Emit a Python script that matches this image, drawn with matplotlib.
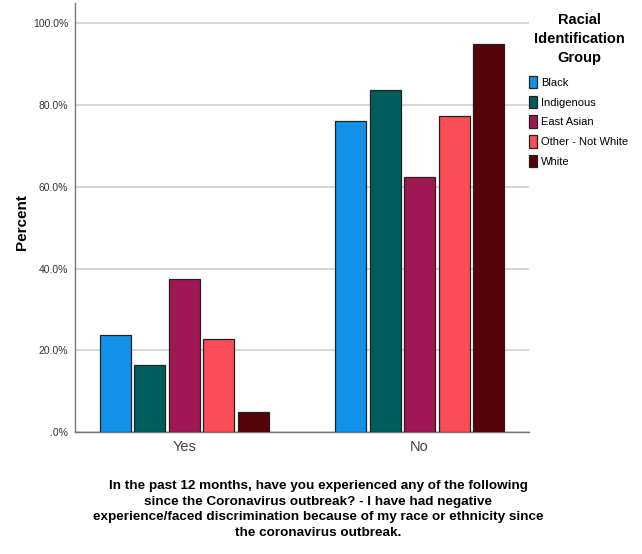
import matplotlib
matplotlib.use("Agg")
import matplotlib.pyplot as plt
import numpy as np

plt.rcParams['font.family'] = ['Liberation Sans', 'DejaVu Sans']

answers = ["Yes", "No"]
groups = ["Black", "Indigenous", "East Asian", "Other - Not White", "White"]
colors = ["#1192e8", "#005d5d", "#9f1853", "#fa4d56", "#570408"]
pct_black = [23.8, 76.2]
pct_indigenous = [16.3, 83.7]
pct_east_asian = [37.5, 62.5]
pct_other = [22.7, 77.3]
pct_white = [5.0, 95.0]
values = [pct_black, pct_indigenous, pct_east_asian, pct_other, pct_white]
yticks = [0, 20, 40, 60, 80, 100]
ytick_labels = [".0%", "20.0%", "40.0%", "60.0%", "80.0%", "100.0%"]

fig = plt.figure(figsize=(6.42, 5.54), dpi=100)
ax = fig.add_axes([75/642, 1 - 432/554, (529-75)/642, (432-3)/554])

x = np.arange(len(answers))
pitch = 0.147
width = 0.132
for i, (g, c, v) in enumerate(zip(groups, colors, values)):
    ax.bar(x + (i - 2) * pitch, v, width, color=c, edgecolor="#222222",
           linewidth=0.9, label=g, zorder=3)

ax.set_xlim(-0.465, 1.465)
ax.set_ylim(0, 105)
ax.set_yticks(yticks)
ax.set_yticklabels(ytick_labels, fontsize=7.5, color="#333333")
ax.set_xticks(x)
ax.set_xticklabels(answers, fontsize=10.5, color="#444444")
ax.tick_params(length=0)
ax.tick_params(axis='y', pad=5)
ax.tick_params(axis='x', pad=6)
ax.grid(axis='y', color="#d4d4d4", linewidth=1.3, zorder=0)
for s in ["top", "right"]:
    ax.spines[s].set_visible(False)
for s in ["left", "bottom"]:
    ax.spines[s].set_color("#777777")
    ax.spines[s].set_linewidth(1.0)

ax.set_ylabel("Percent", fontsize=11, fontweight="bold")
ax.yaxis.set_label_coords(-0.101, 0.49)

fig.text(318/642, 1 - 480/554,
         "In the past 12 months, have you experienced any of the following\n"
         "since the Coronavirus outbreak? - I have had negative\n"
         "experience/faced discrimination because of my race or ethnicity since\n"
         "the coronavirus outbreak.",
         ha="center", va="top", fontsize=9.7, fontweight="bold",
         linespacing=1.4)

fig.text(579/642, 1 - 13/554, "Racial\nIdentification\nGroup", ha="center",
         va="top", fontsize=10.5, fontweight="bold", linespacing=1.45)
leg = ax.legend(loc="upper left", bbox_to_anchor=(529/642, 1 - 76/554),
                bbox_transform=fig.transFigure, frameon=False, fontsize=8,
                handlelength=0.75, handleheight=1.35, handletextpad=0.3,
                labelspacing=0.65, borderaxespad=0, borderpad=0)

fig.savefig("out.png", dpi=100)
